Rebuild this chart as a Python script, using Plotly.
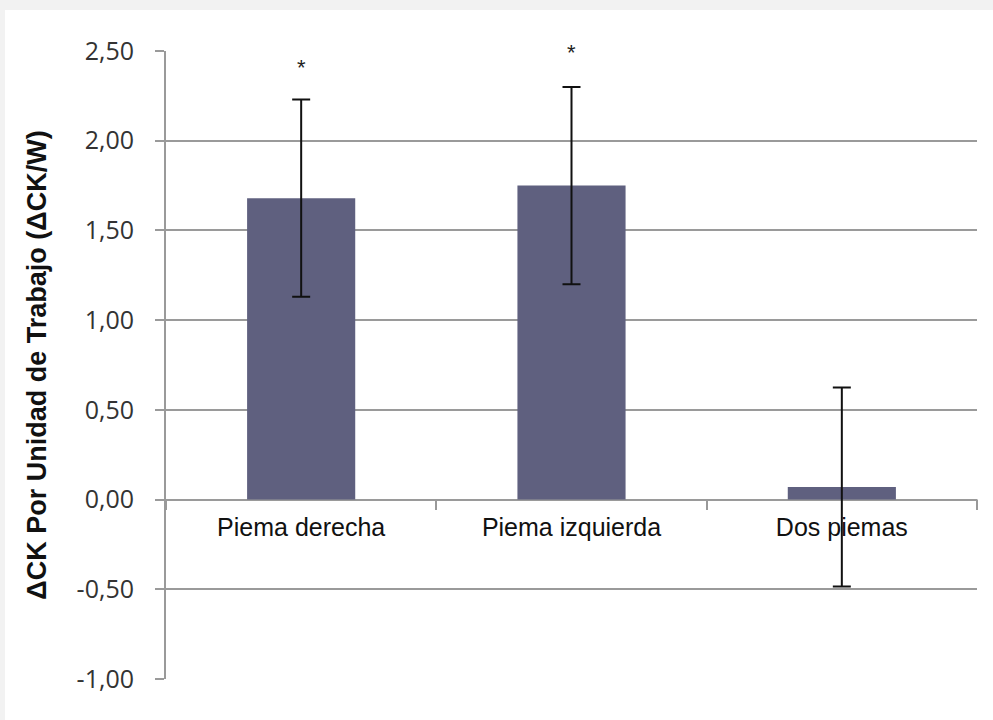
import plotly.graph_objects as go

categories = ["Piema derecha", "Piema izquierda", "Dos piemas"]
values = [1.68, 1.75, 0.07]
errors = [0.55, 0.55, 0.555]
star_y = [2.41, 2.49]
star_labels = ["*", "*"]
y_ticks = [-1.0, -0.5, 0.0, 0.5, 1.0, 1.5, 2.0, 2.5]
y_tick_text = ["-1,00", "-0,50", "0,00", "0,50", "1,00", "1,50", "2,00", "2,50"]

W, H = 993, 720
ml, mr, mt, mb = 166, 16, 51, 41
ymin, ymax = -1.0, 2.5

fig = go.Figure()
fig.add_trace(go.Bar(
    x=categories, y=values, width=0.4,
    marker=dict(color="#5f607f", line=dict(width=0)),
    error_y=dict(type="data", array=errors, visible=True, color="#111111", thickness=2, width=9),
    showlegend=False, hoverinfo="skip",
))
# invisible trace on the crossing x axis (labels at y=0)
fig.add_trace(go.Scatter(x=categories, y=[0, 0, 0], xaxis="x2", mode="markers",
                         marker=dict(opacity=0), showlegend=False, hoverinfo="skip"))

for i, (yy, t) in enumerate(zip(star_y, star_labels)):
    fig.add_annotation(x=categories[i], y=yy, text=t, showarrow=False,
                       font=dict(family="Liberation Sans", size=22, color="#222222"))

pos0 = (0 - ymin) / (ymax - ymin)

fig.update_layout(
    width=W, height=H,
    margin=dict(l=ml, r=mr, t=mt, b=mb, pad=0),
    paper_bgcolor="white", plot_bgcolor="white",
    xaxis=dict(showticklabels=False, showgrid=False, zeroline=False, showline=False,
               ticks="", range=[-0.5, 2.5], type="category"),
    xaxis2=dict(overlaying="x", anchor="free", position=pos0, type="category",
                range=[-0.5, 2.5], matches="x",
                showline=False, showgrid=False, zeroline=False,
                ticks="outside", tickson="boundaries", ticklen=9, tickcolor="#999999", tickwidth=2,
                ticklabelstandoff=10,
                tickfont=dict(family="Liberation Sans", size=25, color="#111111")),
    yaxis=dict(range=[ymin, ymax], tickvals=y_ticks, ticktext=y_tick_text,
               showgrid=True, gridcolor="#9a9a9a", gridwidth=2,
               zeroline=True, zerolinecolor="#9a9a9a", zerolinewidth=2,
               showline=True, linecolor="#9a9a9a", linewidth=2,
               ticks="outside", ticklen=9, tickcolor="#9a9a9a", tickwidth=2,
               ticklabelstandoff=16,
               tickfont=dict(family="Open Sans", size=25, color="#333333"),
               title=dict(text="<b>ΔCK Por Unidad de Trabajo (ΔCK/W)</b>", standoff=22,
                          font=dict(family="Liberation Sans", size=27, color="#111111"))),
    shapes=[
        dict(type="rect", xref="paper", yref="paper", x0=-ml / (W - ml - mr), x1=(W - ml) / (W - ml - mr),
             y0=1 + (mt - 10) / (H - mt - mb), y1=1 + mt / (H - mt - mb),
             fillcolor="#f2f2f2", line=dict(width=0), layer="below"),
        dict(type="rect", xref="paper", yref="paper", x0=-ml / (W - ml - mr), x1=-(ml - 5) / (W - ml - mr),
             y0=-mb / (H - mt - mb), y1=1 + mt / (H - mt - mb),
             fillcolor="#f2f2f2", line=dict(width=0), layer="below"),
        dict(type="line", xref="paper", yref="y", x0=1, x1=1, y0=0, y1=-0.05,
             line=dict(color="#999999", width=2)),
    ],
)

fig.write_html("out.html", config={"displayModeBar": False},
               post_script="document.body.style.margin='0';")
